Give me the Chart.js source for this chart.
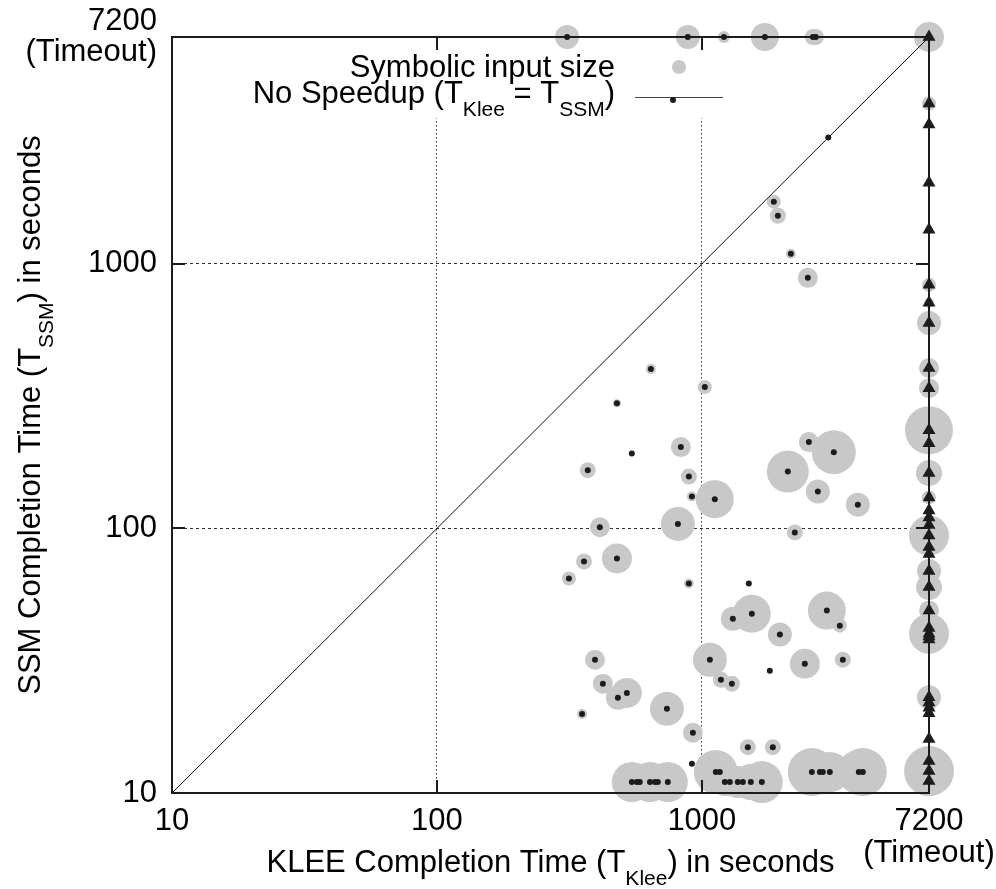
<!DOCTYPE html>
<html>
<head>
<meta charset="utf-8">
<script src="https://cdn.jsdelivr.net/npm/chart.js@4.4.1/dist/chart.umd.min.js"></script>
<style>
  body { margin: 0; background: #fff; }
  #wrap { width: 996px; height: 889px; position: relative; }
</style>
</head>
<body>
<div id="wrap"><canvas id="myChart"></canvas></div>
<script>
const TIMEOUT = 7200;
const xTicks = [10, 100, 1000, 7200];
const yTicks = [10, 100, 1000, 7200];
const noSpeedup = [10, 7200];

// KLEE time (s), SSM time (s), symbolic input size -- one entry per benchmark
const kleeTime = [
  310, 885, 1211, 1729, 2624, 2692,
  3000, 1869, 1936, 2167, 2512,
  642, 1026, 478, 544, 833, 371, 893, 917, 1119, 812, 412,
  2534, 3148, 2111, 2740, 3879, 2243,
  359, 478, 315, 893, 1504,
  1309, 1544, 1970, 2963, 3317,
  1072, 1180, 1298, 1805, 2447, 3404,
  1491, 1853, 395, 423, 482, 521, 353, 738, 925, 917,
  544, 568, 583, 637, 665, 682, 744,
  1129, 1169, 1221, 1275, 1367, 1428, 1530, 1684,
  2601, 2788, 2861, 3041, 3913, 4051,
  7200, 7200, 7200, 7200, 7200, 7200, 7200, 7200, 7200, 7200, 7200, 7200,
  7200, 7200, 7200, 7200, 7200, 7200, 7200, 7200, 7200, 7200, 7200, 7200,
  7200, 7200, 7200, 7200, 7200, 7200, 7200, 7200, 7200, 7200, 7200
];
const ssmTime = [
  7200, 7200, 7200, 7200, 7200, 7200,
  3000, 1717, 1520, 1091, 885,
  400, 342, 297, 192, 203, 166, 157, 132, 129, 104, 101,
  212, 194, 164, 138, 123, 96.6,
  75, 77, 64.7, 61.9, 61.9,
  45.6, 47.6, 39.7, 48.9, 42.9,
  31.9, 26.8, 25.9, 29.0, 30.8, 31.9,
  14.9, 14.9, 31.9, 25.9, 22.9, 23.9, 19.9, 20.8, 16.9, 12.9,
  11, 11, 11, 11, 11, 11, 11,
  12, 12, 11, 11, 11, 11, 11, 11,
  12, 12, 12, 12, 12, 12,
  7200, 4037, 3362, 2027, 1345, 833, 712, 598, 404, 339, 235, 210,
  162, 131, 117, 110, 103, 94, 85, 80, 69, 60, 49, 42,
  40, 39, 38, 23, 22, 21, 20, 16, 13.2, 12.1, 11.1
];
const inputSize = [
  12, 12, 6, 14, 8, 8,
  0, 7, 8, 5, 10,
  5, 7, 4, 0, 10, 8, 8, 5, 19, 17, 10,
  10, 22, 21, 12, 12, 8,
  8, 15, 7, 5, 0,
  12, 19, 12, 19, 7,
  17, 8, 8, 0, 15, 8,
  8, 8, 10, 10, 12, 15, 5, 17, 10, 0,
  20, 12, 10, 20, 10, 12, 20,
  22, 12, 14, 14, 16, 14, 18, 21,
  24, 20, 20, 20, 22, 24,
  15, 7, 0, 0, 0, 7, 5, 12, 10, 10, 24, 0,
  13, 7, 0, 0, 0, 20, 0, 0, 12, 13, 10, 0,
  20, 0, 0, 12, 0, 0, 0, 0, 0, 25, 0
];

const GRAY = '#c8c8c8';
const INK = '#1c1c1c';
const FONT = '"Liberation Sans", Arial, Helvetica, sans-serif';

const allPts = kleeTime.map((k, i) => ({x: k, y: ssmTime[i], s: inputSize[i]}));
const finished = allPts.filter(p => p.x < TIMEOUT);
const timedOut = allPts.filter(p => p.x >= TIMEOUT);

Chart.defaults.font.family = FONT;
Chart.defaults.font.size = 31;
Chart.defaults.color = '#000';

// draws text with subscript parts
function drawRich(ctx, parts, x, y, align) {
  let w = 0;
  parts.forEach(p => {
    ctx.font = (p.sub ? '21px ' : '31px ') + FONT;
    p.w = ctx.measureText(p.t).width;
    w += p.w;
  });
  let cx = align === 'center' ? x - w / 2 : (align === 'right' ? x - w : x);
  ctx.textAlign = 'left';
  ctx.textBaseline = 'alphabetic';
  ctx.fillStyle = '#000';
  parts.forEach(p => {
    ctx.font = (p.sub ? '21px ' : '31px ') + FONT;
    ctx.fillText(p.t, cx, y + (p.sub ? 13 : 0));
    cx += p.w;
  });
}

const decor = {
  id: 'decor',
  beforeDatasetsDraw(chart) {
    const {ctx, chartArea: a} = chart;
    // key box hides the grid behind it
    ctx.save();
    ctx.fillStyle = '#fff';
    ctx.fillRect(a.left + 170, a.top + 12, 390, 69);
    ctx.restore();
  },
  afterDatasetsDraw(chart) {
    const {ctx, chartArea: a, scales} = chart;
    const xs = scales.x, ys = scales.y;
    ctx.save();
    ctx.strokeStyle = INK;
    ctx.lineWidth = 2;
    ctx.strokeRect(a.left, a.top, a.right - a.left, a.bottom - a.top);
    ctx.beginPath();
    [100, 1000].forEach(v => {
      const px = Math.round(xs.getPixelForValue(v));
      ctx.moveTo(px, a.bottom); ctx.lineTo(px, a.bottom - 13);
      ctx.moveTo(px, a.top); ctx.lineTo(px, a.top + 13);
      const py = Math.round(ys.getPixelForValue(v));
      ctx.moveTo(a.left, py); ctx.lineTo(a.left + 13, py);
      ctx.moveTo(a.right, py); ctx.lineTo(a.right - 13, py);
    });
    ctx.stroke();

    // key
    const kx = a.left + 443;
    drawRich(ctx, [{t: 'Symbolic input size'}], kx, a.top + 40, 'right');
    drawRich(ctx, [{t: 'No Speedup (T'}, {t: 'Klee', sub: true}, {t: ' = T'},
      {t: 'SSM', sub: true}, {t: ')'}], kx, a.top + 66, 'right');
    ctx.fillStyle = GRAY;
    ctx.beginPath(); ctx.arc(a.left + 507, a.top + 30, 7, 0, Math.PI * 2); ctx.fill();
    ctx.strokeStyle = '#444';
    ctx.lineWidth = 1;
    ctx.beginPath(); ctx.moveTo(a.left + 463, a.top + 60.5); ctx.lineTo(a.left + 551, a.top + 60.5); ctx.stroke();
    ctx.fillStyle = INK;
    ctx.beginPath(); ctx.arc(a.left + 501, a.top + 63, 3, 0, Math.PI * 2); ctx.fill();

    // axis titles
    drawRich(ctx, [{t: 'KLEE Completion Time (T'}, {t: 'Klee', sub: true}, {t: ') in seconds'}],
      (a.left + a.right) / 2, a.bottom + 79, 'center');
    ctx.translate(a.left - 132, (a.top + a.bottom) / 2);
    ctx.rotate(-Math.PI / 2);
    drawRich(ctx, [{t: 'SSM Completion Time (T'}, {t: 'SSM', sub: true}, {t: ') in seconds'}], 0, 0, 'center');
    ctx.restore();
  }
};

function tickLabel(v) {
  return v === TIMEOUT ? [String(v), '(Timeout)'] : String(v);
}
function gridColor(c) {
  const v = c.tick ? c.tick.value : 0;
  return (v === 100 || v === 1000) ? '#333' : 'rgba(0,0,0,0)';
}
// labels may hang past the plot edges, the plot box stays fixed
function noOverhang(s) {
  s.paddingTop = 0; s.paddingBottom = 0; s.paddingLeft = 0; s.paddingRight = 0;
}

const data = {
  datasets: [
    {
      label: 'dots',
      data: finished,
      pointRadius: 3,
      pointBorderWidth: 0,
      backgroundColor: INK,
      borderColor: INK,
      clip: false,
      order: 0
    },
    {
      label: 'timeouts',
      data: timedOut,
      pointStyle: 'triangle',
      pointRadius: 7.5,
      pointBorderWidth: 0,
      backgroundColor: INK,
      borderColor: INK,
      clip: false,
      order: 1
    },
    {
      label: 'No Speedup',
      data: noSpeedup.map(v => ({x: v, y: v})),
      showLine: true,
      pointRadius: 0,
      borderColor: '#111',
      borderWidth: 1,
      order: 2
    },
    {
      label: 'Symbolic input size',
      data: allPts,
      pointRadius: c => (c.raw ? c.raw.s : 0),
      pointBorderWidth: 0,
      backgroundColor: GRAY,
      borderColor: GRAY,
      clip: false,
      order: 3
    }
  ]
};

const config = {
  type: 'scatter',
  data: data,
  plugins: [decor],
  options: {
    responsive: true,
    maintainAspectRatio: false,
    devicePixelRatio: 1,
    animation: false,
    events: [],
    layout: { padding: { left: 0, right: 67, top: 37, bottom: 0 } },
    plugins: { legend: { display: false }, tooltip: { enabled: false } },
    scales: {
      x: {
        type: 'logarithmic',
        min: 10,
        max: 7200,
        afterBuildTicks: s => { s.ticks = xTicks.map(v => ({value: v})); },
        afterFit: s => { s.height = 96; noOverhang(s); },
        ticks: {
          callback: tickLabel,
          autoSkip: false,
          maxRotation: 0,
          padding: 13,
          font: { size: 31, lineHeight: 1.02 },
          major: { enabled: false }
        },
        grid: { color: gridColor, lineWidth: 1, drawTicks: false },
        border: { display: false, dash: [1.5, 2.5] }
      },
      y: {
        type: 'logarithmic',
        min: 10,
        max: 7200,
        afterBuildTicks: s => { s.ticks = yTicks.map(v => ({value: v})); },
        afterFit: s => { s.width = 172; noOverhang(s); },
        ticks: {
          callback: tickLabel,
          autoSkip: false,
          padding: 15,
          font: { size: 31, lineHeight: 1.02 },
          major: { enabled: false }
        },
        grid: { color: gridColor, lineWidth: 1, drawTicks: false },
        border: { display: false, dash: [3, 3] }
      }
    }
  }
};

const myChart = new Chart(document.getElementById('myChart'), config);
</script>
</body>
</html>
